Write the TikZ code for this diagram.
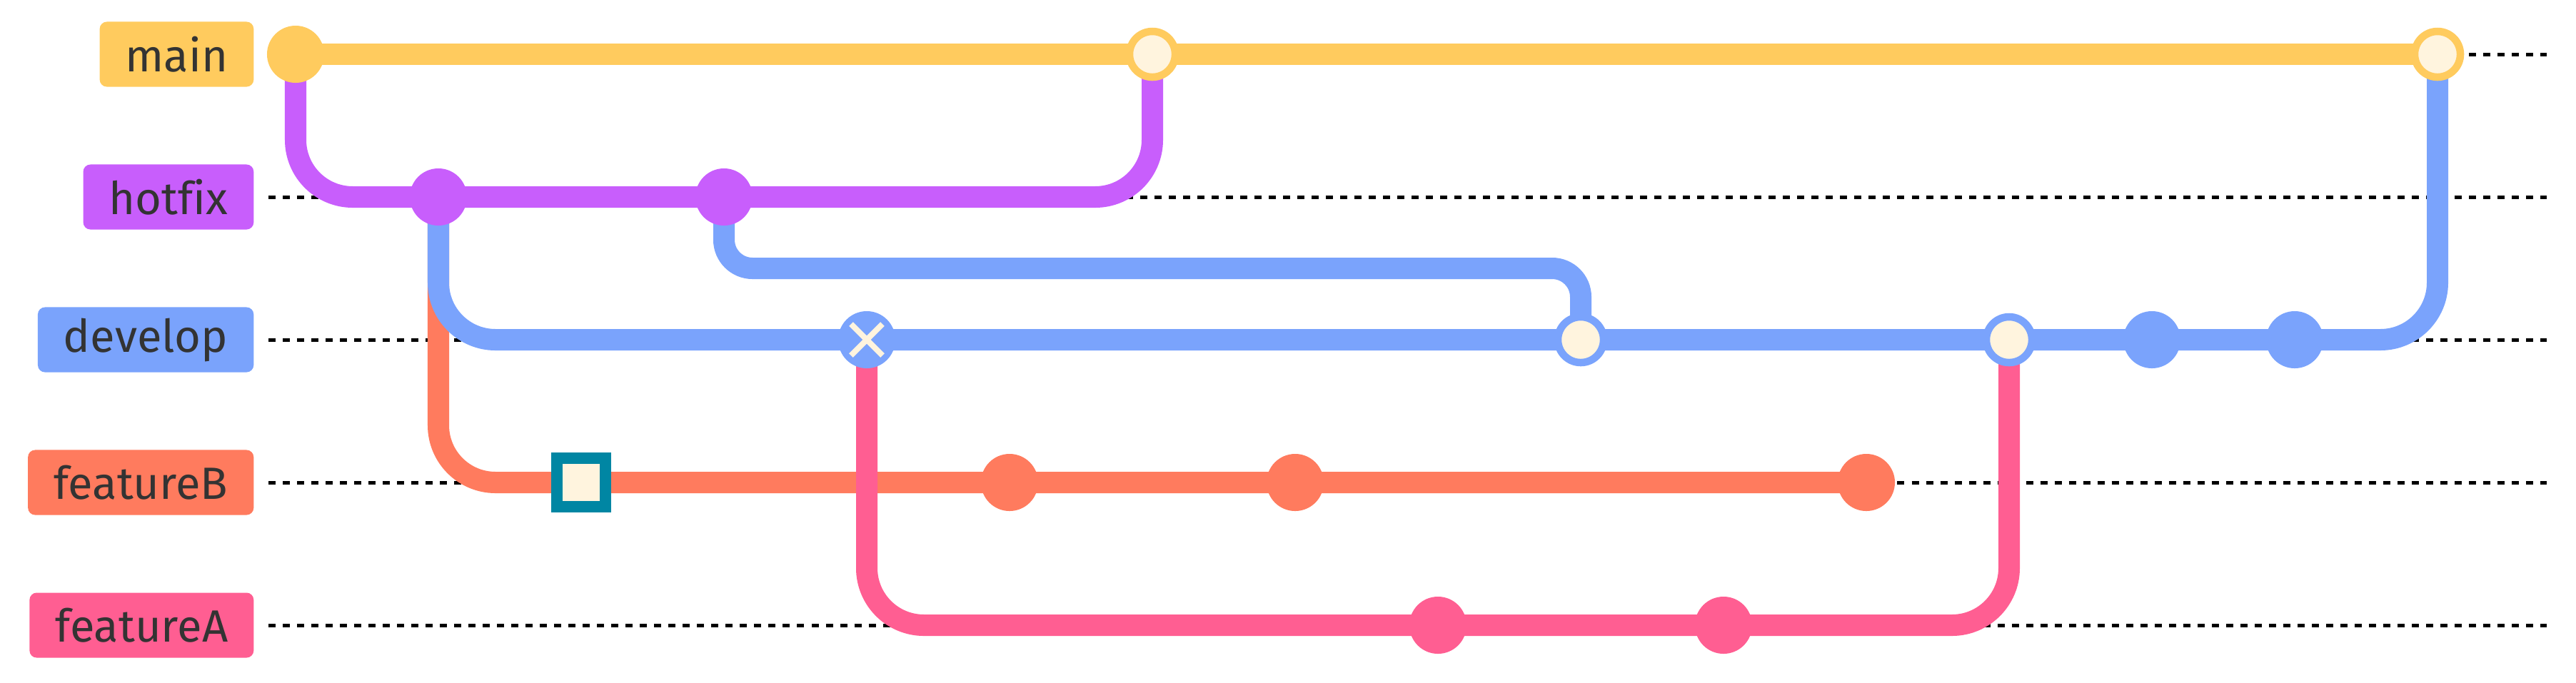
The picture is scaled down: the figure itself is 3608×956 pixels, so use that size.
\documentclass[tikz,border=0pt]{standalone}
\usepackage{fontspec}
\setmainfont{Fira Sans}[Ligatures=CommonOff]
\definecolor{mainc}{HTML}{FFCB5E}
\definecolor{hotfixc}{HTML}{C85EFC}
\definecolor{developc}{HTML}{7AA3FC}
\definecolor{featureBc}{HTML}{FF7B5E}
\definecolor{featureAc}{HTML}{FF5E92}
\definecolor{creamc}{HTML}{FFF4DE}
\definecolor{tealc}{HTML}{0086A3}
\definecolor{textc}{HTML}{333333}
\begin{document}
\begin{tikzpicture}[x=0.01cm, y=-0.01cm,
  lane/.style={draw=black, line width=0.05cm, dash pattern=on 0.1cm off 0.1cm},
  branch/.style={draw=#1, line width=0.3cm, rounded corners=0.8cm},
  branchlabel/.style={anchor=east, fill=#1, text=textc, rounded corners=0.1cm, minimum height=0.91cm, inner xsep=0.36cm, font=\fontsize{18pt}{22pt}\selectfont},
  commitdot/.style={circle, fill=#1, minimum size=0.8cm, inner sep=0pt},
  mergedot/.style={circle, draw=#1, fill=creamc, line width=0.105cm, minimum size=0.64cm, inner sep=0pt},
  cherrydot/.style={rectangle, draw=tealc, fill=creamc, line width=0.16cm, minimum size=0.68cm, inner sep=0pt},
  xmark/.style={draw=creamc, line width=0.08cm}]
\useasboundingbox (0,0) rectangle (3608,956);
\foreach \br/\y/\col in {main/76/mainc, hotfix/276/hotfixc, develop/476/developc, featureB/676/featureBc, featureA/876/featureAc} {
  \node[branchlabel=\col] (l\br) at (356,\y) {\br};
  \draw[lane] ([xshift=0.2cm]l\br.east) -- ++(3191,0);
}
\foreach \i/\y in {0/76, 1/276, 2/676, 3/276, 4/476, 5/676, 6/76, 7/676, 8/876, 9/476, 10/876, 11/676, 12/476, 13/476, 14/476, 15/76}
  \coordinate (c\i) at ({414+200*\i},\y);
\draw[branch=mainc] (c0) -- (c6) -- (c15);
\draw[branch=hotfixc] (c0) |- (c1) -- (c3) -| (c6);
\draw[branch=featureBc] (c1) |- (c2) -- (c5) -- (c7) -- (c11);
\draw[branch=developc] (c1) |- (c4) -- (c9) -- (c12) -- (c13) -- (c14) -| (c15);
\draw[branch=developc, rounded corners=0.4cm] (c3) -- ++(0,100) -| (c9);
\draw[branch=featureAc] (c4) |- (c8) -- (c10) -| (c12);
\foreach \i/\col in {0/mainc, 1/hotfixc, 3/hotfixc, 5/featureBc, 7/featureBc, 8/featureAc, 10/featureAc, 11/featureBc, 13/developc, 14/developc}
  \node[commitdot=\col] (k\i) at (c\i) {};
\foreach \i/\col in {6/mainc, 9/developc, 12/developc, 15/mainc}
  \node[mergedot=\col] (k\i) at (c\i) {};
\node[cherrydot] (k2) at (c2) {};
\node[commitdot=developc] (k4) at (c4) {};
\draw[xmark] (k4.center) +(-22,-22) -- +(22,22) (k4.center) +(-22,22) -- +(22,-22);
\end{tikzpicture}
\end{document}
